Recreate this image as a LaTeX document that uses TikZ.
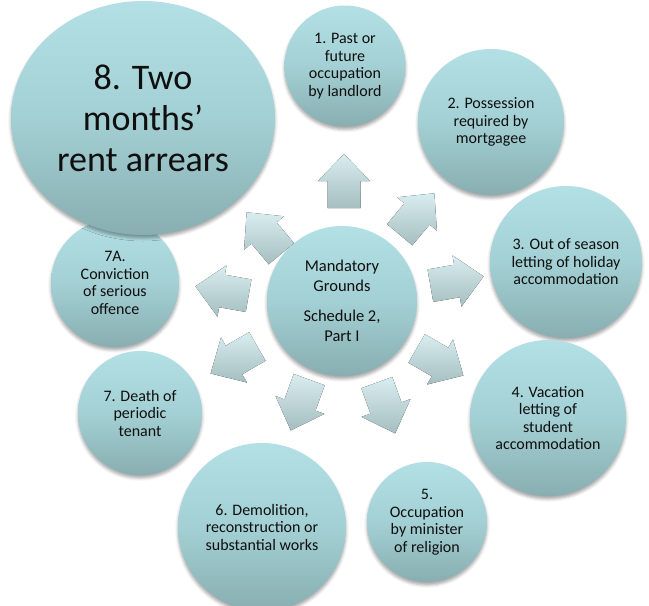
\documentclass[tikz,border=0pt]{standalone}
\usepackage{fontspec}
\setmainfont{Carlito}
\usetikzlibrary{calc,shapes.geometric,shadows.blur}

\definecolor{disctop}{RGB}{178,224,228}
\definecolor{discmid}{RGB}{163,208,212}
\definecolor{discbot}{RGB}{136,174,177}
\definecolor{arrtop}{RGB}{216,237,239}
\definecolor{arrbot}{RGB}{166,190,192}
\definecolor{inktext}{RGB}{15,15,15}

\tikzset{
  disc/.style={circle, inner sep=0pt, minimum size=#1,
    top color=disctop, bottom color=discbot, middle color=discmid,
    blur shadow={shadow xshift=0pt, shadow yshift=-3pt,
      shadow blur radius=3pt, shadow opacity=35},
    align=center, text=inktext,
    font=\fontsize{16}{17.5}\selectfont},
  hub/.style={disc=#1, font=\fontsize{16.5}{19.5}\selectfont},
  bigdisc/.style={disc, ellipse, minimum width=264pt, minimum height=234pt,
    font=\fontsize{36}{41}\selectfont},
  blockarrow/.style={top color=arrtop, bottom color=arrbot, draw=none}
}

\begin{document}
\begin{tikzpicture}[x=1pt,y=1pt]
  \useasboundingbox (0,0) rectangle (649,-606);

  % outer grounds
  \node[disc=128pt] (g7a) at (115,-283)
    {7A.\\Conviction\\of serious\\offence};
  \node[bigdisc] (g8) at (143,-118)
    {8. Two\\months’\\rent arrears};
  \node[disc=121pt] (g1) at (345,-66)
    {1. Past or\\future\\occupation\\by landlord};
  \node[disc=146pt] (g2) at (491,-122)
    {2. Possession\\required by\\mortgagee};
  \node[disc=152pt] (g3) at (566,-262)
    {3. Out of season\\letting of holiday\\accommodation};
  \node[disc=156pt] (g4) at (548,-418)
    {4. Vacation\\letting of\\student\\accommodation};
  \node[disc=120pt] (g5) at (427,-522)
    {5.\\Occupation\\by minister\\of religion};
  \node[disc=168pt] (g6) at (262,-527)
    {6. Demolition,\\reconstruction or\\substantial works};
  \node[disc=124pt] (g7) at (140,-413)
    {7. Death of\\periodic\\tenant};

  % central hub
  \node[hub=150pt] (hub) at (342,-301)
    {Mandatory\\Grounds\\[11pt]Schedule 2,\\Part I};

  % block arrows pointing out from the hub
  \foreach \ang/\ax/\ay [count=\i] in
      {90/344/181, 50/417/214, 10/457/281, -30/440/362, -70/386/408,
       -110/300/405, -150/234/360, 170/222/291, 130/264/233} {
    \coordinate (ar\i) at (\ax,-\ay);
    \fill[blockarrow]
      ($(ar\i)+(\ang:27)$)
      -- ($(ar\i)+(\ang+90:26)$)
      -- ($(ar\i)+(\ang+90:16.5)$)
      -- ($(ar\i)+(\ang:-27)+(\ang+90:16.5)$)
      -- ($(ar\i)+(\ang:-27)+(\ang-90:16.5)$)
      -- ($(ar\i)+(\ang-90:16.5)$)
      -- ($(ar\i)+(\ang-90:26)$)
      -- cycle;
  }
\end{tikzpicture}
\end{document}
